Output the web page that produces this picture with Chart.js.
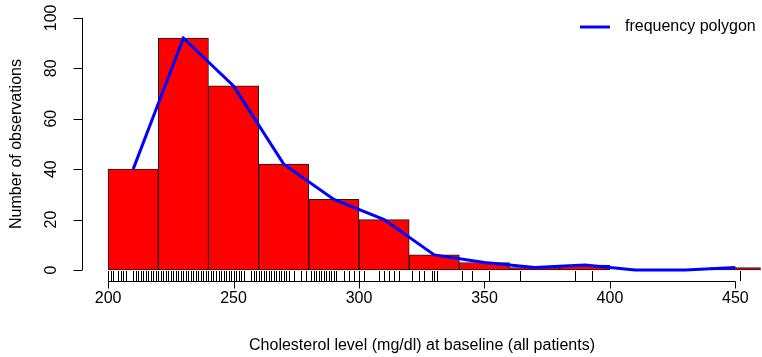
<!DOCTYPE html>
<html>
<head>
<meta charset="utf-8">
<script src="https://cdn.jsdelivr.net/npm/chart.js@4/dist/chart.umd.min.js"></script>
<style>
  html, body { margin: 0; padding: 0; background: #ffffff; }
  #wrap { width: 762px; height: 357px; }
</style>
</head>
<body>
<div id="wrap"><canvas id="c" width="762" height="357"></canvas></div>
<script>
// Histogram bins (20 mg/dl wide) given by their midpoints, with counts per bin
const binMids = [210, 230, 250, 270, 290, 310, 330, 350, 370, 390, 410, 430, 450];
const binCounts = [40, 92, 73, 42, 28, 20, 6, 3, 1, 2, 0, 0, 1];

// Tick labels for both axes
const xTicks = [200, 250, 300, 350, 400, 450];
const yTicks = [0, 20, 40, 60, 80, 100];

// Distinct observed cholesterol values, shown as a rug under the bars
const rugValues = [
  200, 201, 202, 204, 205, 206, 207, 210, 211, 212, 213, 214, 215, 216, 217, 218, 219,
  220, 221, 222, 223, 224, 225, 226, 227, 228, 229, 230, 231, 232, 233, 234, 235, 236,
  237, 238, 239, 240, 241, 242, 243, 244, 245, 246, 247, 248, 249, 250, 251, 252, 253,
  254, 257, 258, 259, 260, 261, 262, 263, 264, 265, 266, 267, 268, 269, 270, 271, 272,
  274, 277, 279, 281, 282, 283, 284, 285, 286, 287, 288, 289, 290, 291, 294, 296, 298,
  300, 302, 308, 310, 312, 314, 316, 321, 324, 326, 329, 330, 331, 341, 345, 352, 364,
  386, 393, 452
];

const FONT = "'Liberation Sans', Arial, Helvetica, sans-serif";

// Axis lines, tick marks, rotated y labels, rug and legend
const basePlot = {
  id: 'basePlot',
  afterDraw(chart) {
    const { ctx, chartArea } = chart;
    const xs = chart.scales.x, ys = chart.scales.y;
    ctx.save();
    ctx.strokeStyle = '#000';
    ctx.fillStyle = '#000';
    ctx.lineWidth = 1;

    // rug
    const rugBottom = chartArea.bottom;
    ctx.beginPath();
    rugValues.forEach(v => {
      const px = Math.round(xs.getPixelForValue(v)) + 0.5;
      ctx.moveTo(px, rugBottom);
      ctx.lineTo(px, rugBottom - 10);
    });
    ctx.stroke();

    // x axis
    const ax = chartArea.bottom + 0.5;
    ctx.beginPath();
    ctx.moveTo(xs.getPixelForValue(xTicks[0]), ax);
    ctx.lineTo(xs.getPixelForValue(xTicks[xTicks.length - 1]), ax);
    xTicks.forEach(v => {
      const px = Math.round(xs.getPixelForValue(v)) + 0.5;
      ctx.moveTo(px, ax);
      ctx.lineTo(px, ax + 7);
    });
    ctx.stroke();

    // y axis
    const ay = chartArea.left + 0.5;
    ctx.beginPath();
    ctx.moveTo(ay, ys.getPixelForValue(yTicks[0]));
    ctx.lineTo(ay, ys.getPixelForValue(yTicks[yTicks.length - 1]));
    yTicks.forEach(v => {
      const py = Math.round(ys.getPixelForValue(v)) + 0.5;
      ctx.moveTo(ay, py);
      ctx.lineTo(ay - 9, py);
    });
    ctx.stroke();

    ctx.font = '16px ' + FONT;
    ctx.textAlign = 'center';
    ctx.textBaseline = 'middle';
    yTicks.forEach(v => {
      ctx.save();
      ctx.translate(52, ys.getPixelForValue(v));
      ctx.rotate(-Math.PI / 2);
      ctx.fillText(String(v), 0, 0);
      ctx.restore();
    });

    // legend
    const ds = chart.data.datasets[1];
    ctx.strokeStyle = ds.borderColor;
    ctx.lineWidth = 3;
    ctx.beginPath();
    ctx.moveTo(580, 27);
    ctx.lineTo(610, 27);
    ctx.stroke();
    ctx.font = '16px ' + FONT;
    ctx.textAlign = 'left';
    ctx.fillStyle = '#000';
    ctx.fillText(ds.label, 625, 27);
    ctx.restore();
  }
};

new Chart(document.getElementById('c'), {
  data: {
    datasets: [
      {
        type: 'bar',
        label: 'counts',
        data: binMids.map((x, i) => ({ x, y: binCounts[i] })),
        backgroundColor: '#ff0000',
        borderColor: '#1a1a1a',
        borderWidth: 1,
        borderSkipped: false,
        barPercentage: 1,
        categoryPercentage: 1,
        grouped: false,
        order: 2
      },
      {
        type: 'line',
        label: 'frequency polygon',
        data: binMids.map((x, i) => ({ x, y: binCounts[i] })),
        borderColor: '#0000ff',
        borderWidth: 3,
        pointRadius: 0,
        tension: 0,
        fill: false,
        order: 1
      }
    ]
  },
  options: {
    responsive: false,
    animation: false,
    devicePixelRatio: 1,
    layout: { padding: { top: 7, right: 0, bottom: 0, left: 0 } },
    plugins: { legend: { display: false }, tooltip: { enabled: false }, title: { display: false } },
    scales: {
      x: {
        type: 'linear',
        offset: false,
        min: 189.6,
        max: 460.6,
        afterBuildTicks: s => { s.ticks = xTicks.map(v => ({ value: v })); },
        afterFit: s => { s.height = 76; },
        grid: { display: false, offset: false },
        border: { display: false },
        ticks: { color: '#000', font: { family: FONT, size: 16 }, padding: 0, maxRotation: 0, autoSkip: false },
        title: {
          display: true,
          text: 'Cholesterol level (mg/dl) at baseline (all patients)',
          color: '#000',
          font: { family: FONT, size: 16 },
          padding: { top: 0, bottom: 1.5 }
        }
      },
      y: {
        type: 'linear',
        min: -4.35,
        max: 104.3,
        afterBuildTicks: s => { s.ticks = yTicks.map(v => ({ value: v })); },
        afterFit: s => { s.width = 82; },
        grid: { display: false },
        border: { display: false },
        ticks: { display: false },
        title: {
          display: true,
          text: 'Number of observations',
          color: '#000',
          font: { family: FONT, size: 16 },
          padding: { top: 7, bottom: 0 }
        }
      }
    }
  },
  plugins: [basePlot]
});
</script>
</body>
</html>
